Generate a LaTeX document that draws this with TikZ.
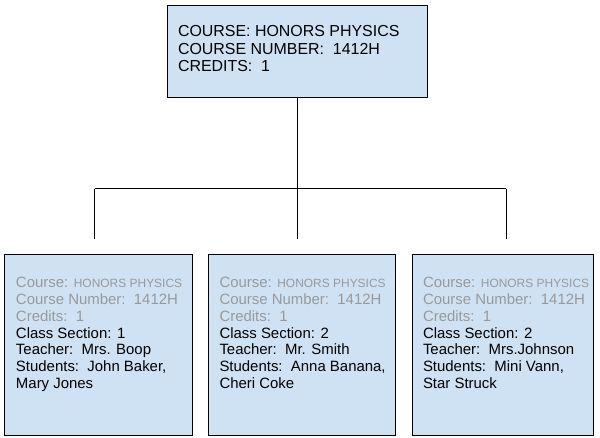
\documentclass[tikz,border=0pt]{standalone}
\usepackage{fontspec}
\setmainfont{Liberation Sans}
\definecolor{boxblue}{HTML}{CFE2F3}
\definecolor{faded}{HTML}{999999}
\tikzset{
  card/.style={draw, fill=boxblue, line width=1bp, inner sep=0pt, minimum height=180.5bp},
  info/.style={anchor=north west, inner sep=0pt, align=left, font=\fontsize{15}{17}\selectfont},
}
\newcommand{\faded}[1]{\textcolor{faded}{#1}}
\newcommand{\smallcaps}[1]{{\fontsize{12}{17}\selectfont #1}}
\begin{document}
\begin{tikzpicture}[x=1bp, y=-1bp, line width=1bp]
      \useasboundingbox (0,0) rectangle (600,438);
      \node[card, minimum width=260bp, minimum height=92bp] (0) at (297.5,52) {};
      \node[card, minimum width=187bp] (1) at (98.5,344.75) {};
      \node[card, minimum width=186.5bp] (2) at (301.75,344.75) {};
      \node[card, minimum width=181bp] (3) at (502.5,344.75) {};
      \node[info, font=\fontsize{16}{18}\selectfont] (l0) at ([shift={(10.5,19)}]0.north west)
        {COURSE: HONORS PHYSICS\\COURSE NUMBER:\ \ 1412H\\CREDITS:\ \ 1};
      \node[info] (l1) at ([shift={(11,22.3)}]1.north west)
        {\faded{Course: \smallcaps{HONORS PHYSICS}}\\\faded{Course Number:\ \ 1412H}\\\faded{Credits:\ \ 1}\\
         Class Section: 1\\Teacher:\ \ Mrs. Boop\\Students:\ \ John Baker,\\Mary Jones};
      \node[info] (l2) at ([shift={(11,22.3)}]2.north west)
        {\faded{Course: \smallcaps{HONORS PHYSICS}}\\\faded{Course Number:\ \ 1412H}\\\faded{Credits:\ \ 1}\\
         Class Section: 2\\Teacher:\ \ Mr. Smith\\Students:\ \ Anna Banana,\\Cheri Coke};
      \node[info] (l3) at ([shift={(11,22.3)}]3.north west)
        {\faded{Course: \smallcaps{HONORS PHYSICS}}\\\faded{Course Number:\ \ 1412H}\\\faded{Credits:\ \ 1}\\
         Class Section: 2\\Teacher:\ \ Mrs.Johnson\\Students:\ \ Mini Vann,\\Star Struck};
      \coordinate (j1) at (94.5,189);
      \coordinate (j3) at (506,189);
      \coordinate (d1) at (94.5,239);
      \coordinate (d2) at (297.5,239);
      \coordinate (d3) at (506,239);
      \begin{scope}[-]
        \draw (0) to (d2);
        \draw (d1) to (j1);
        \draw (j1) to (j3);
        \draw (j3) to (d3);
      \end{scope}
    \end{tikzpicture}
\end{document}
